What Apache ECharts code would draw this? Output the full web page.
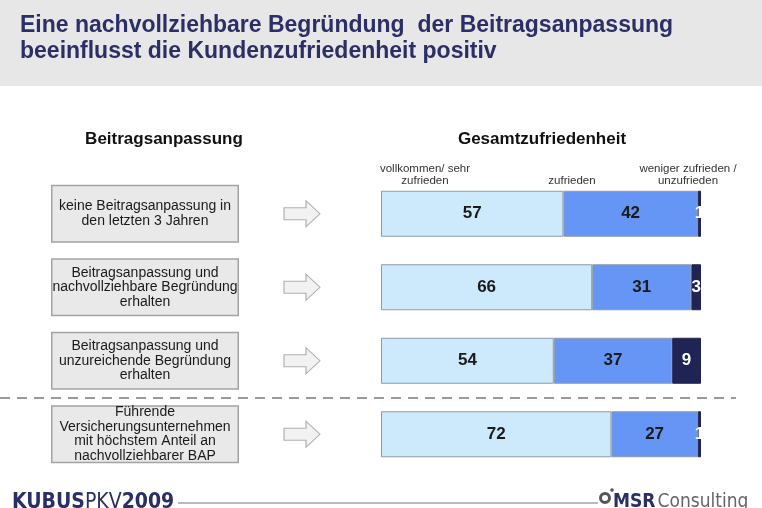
<!DOCTYPE html>
<html>
<head>
<meta charset="utf-8">
<script src="https://cdn.jsdelivr.net/npm/echarts@6/dist/echarts.min.js"></script>
<style>
  html, body { margin: 0; padding: 0; background: #fff; }
  #chart { width: 762px; height: 508px; }
</style>
</head>
<body>
<div id="chart"></div>
<script>
// Daten
const categories = [
  "keine Beitragsanpassung in\nden letzten 3 Jahren",
  "Beitragsanpassung und\nnachvollziehbare Begründung\nerhalten",
  "Beitragsanpassung und\nunzureichende Begründung\nerhalten",
  "Führende\nVersicherungsunternehmen\nmit höchstem Anteil an\nnachvollziehbarer BAP"
];
const seriesNames = ["vollkommen/ sehr\nzufrieden", "zufrieden", "weniger zufrieden /\nunzufrieden"];
const sehrZufrieden = [57, 66, 54, 72];
const zufrieden = [42, 31, 37, 27];
const unzufrieden = [1, 3, 9, 1];

const navy = "#2b2f66";
const font = "Liberation Sans";

const chart = echarts.init(document.getElementById("chart"));

const gridTop = 177;
const gridHeight = 294;

function catAxis(idx) {
  return {
    type: "category",
    gridIndex: idx,
    data: categories,
    inverse: true,
    axisLine: { show: false },
    axisTick: { show: false },
    axisLabel: { show: false },
    splitLine: { show: false }
  };
}
function valAxis(idx, max) {
  return {
    type: "value",
    gridIndex: idx,
    min: 0,
    max: max,
    show: false
  };
}

const valueLabel = (color) => ({
  show: true,
  position: "inside",
  color: color,
  fontFamily: font,
  fontWeight: "bold",
  fontSize: 17
});

const headStyle = { fill: "#111", fontFamily: font, fontSize: 17, fontWeight: "bold", align: "center", verticalAlign: "middle" };
const legendStyle = { fill: "#333", fontFamily: font, fontSize: 11.5, align: "center", lineHeight: 12 };

const option = {
  backgroundColor: "#ffffff",
  animation: false,
  title: {
    text: "Eine nachvollziehbare Begründung  der Beitragsanpassung\nbeeinflusst die Kundenzufriedenheit positiv",
    left: 15,
    top: 8,
    textStyle: {
      fontFamily: font,
      fontSize: 23,
      fontWeight: "bold",
      color: navy,
      lineHeight: 26
    }
  },
  grid: [
    { left: 381, width: 320, top: gridTop, height: gridHeight },
    { left: 51, width: 188, top: gridTop, height: gridHeight },
    { left: 284, width: 36, top: gridTop, height: gridHeight }
  ],
  xAxis: [valAxis(0, 100), valAxis(1, 1), valAxis(2, 1)],
  yAxis: [catAxis(0), catAxis(1), catAxis(2)],
  graphic: [
    {
      type: "rect",
      z: -10,
      shape: { x: 0, y: 0, width: 762, height: 86 },
      style: { fill: "#e7e7e7" }
    },
    { type: "text", x: 164, y: 139, style: Object.assign({ text: "Beitragsanpassung" }, headStyle) },
    { type: "text", x: 542, y: 139, style: Object.assign({ text: "Gesamtzufriedenheit" }, headStyle) },
    {
      type: "line",
      shape: { x1: 0, y1: 398, x2: 736, y2: 398 },
      style: { stroke: "#9a9a9a", lineWidth: 2, lineDash: [10, 7] }
    },
    { type: "text", x: 425, y: 163, style: Object.assign({ text: seriesNames[0] }, legendStyle) },
    { type: "text", x: 572, y: 175, style: Object.assign({ text: seriesNames[1] }, legendStyle) },
    { type: "text", x: 688, y: 163, style: Object.assign({ text: seriesNames[2] }, legendStyle) },
    // Fußzeile
    {
      type: "text",
      x: 12, y: 492,
      style: {
        text: "{b|KUBUS}{n|PKV}{b|2009}",
        rich: {
          b: { fontFamily: "DejaVu Sans Condensed", fontWeight: "bold", fontSize: 21, fill: navy },
          n: { fontFamily: "DejaVu Sans Condensed", fontSize: 21, fill: navy }
        }
      }
    },
    {
      type: "line",
      shape: { x1: 178, y1: 503, x2: 598, y2: 503 },
      style: { stroke: "#777", lineWidth: 1 }
    },
    {
      type: "circle",
      shape: { cx: 605, cy: 498, r: 4.5 },
      style: { fill: "#fff", stroke: "#555", lineWidth: 3 }
    },
    {
      type: "circle",
      shape: { cx: 612, cy: 490, r: 1.8 },
      style: { fill: "#555" }
    },
    {
      type: "text",
      x: 613, y: 493,
      style: {
        text: "{b|MSR}{n|Consulting}",
        rich: {
          b: { fontFamily: "DejaVu Sans Condensed", fontWeight: "bold", fontSize: 19, fill: navy },
          n: { fontFamily: "DejaVu Sans Condensed", fontSize: 19, fill: "#666", padding: [0, 0, 0, 2] }
        }
      }
    }
  ],
  series: [
    {
      name: seriesNames[0],
      type: "bar",
      stack: "total",
      xAxisIndex: 0,
      yAxisIndex: 0,
      barWidth: 46,
      data: sehrZufrieden,
      itemStyle: { color: "#cdeafc", borderColor: "#8e9aa8", borderWidth: 1 },
      label: valueLabel("#1a1a1a")
    },
    {
      name: seriesNames[1],
      type: "bar",
      stack: "total",
      xAxisIndex: 0,
      yAxisIndex: 0,
      barWidth: 46,
      data: zufrieden,
      itemStyle: { color: "#6696f5", borderColor: "#8e9aa8", borderWidth: 1 },
      label: valueLabel("#1a1a1a")
    },
    {
      name: seriesNames[2],
      type: "bar",
      stack: "total",
      xAxisIndex: 0,
      yAxisIndex: 0,
      barWidth: 46,
      data: unzufrieden,
      itemStyle: { color: "#1f2455", borderColor: "#1f2455", borderWidth: 1 },
      label: valueLabel("#ffffff")
    },
    {
      // Kästen mit den Gruppen
      type: "bar",
      xAxisIndex: 1,
      yAxisIndex: 1,
      barWidth: 58,
      data: categories.map(() => 1),
      itemStyle: { color: "#e9e9e9", borderColor: "#a3a3a3", borderWidth: 1.5 },
      label: {
        show: true,
        position: "inside",
        formatter: (p) => categories[p.dataIndex],
        fontFamily: font,
        fontSize: 14,
        lineHeight: 14.5,
        color: "#1a1a1a",
        align: "center"
      },
      silent: true
    },
    {
      // Pfeile
      type: "scatter",
      xAxisIndex: 2,
      yAxisIndex: 2,
      symbol: "path://M0,7 L22,7 L22,0 L36,13 L22,26 L22,19 L0,19 Z",
      symbolSize: [36, 26],
      data: categories.map((c, i) => [0.5, i]),
      itemStyle: { color: "#efefef", borderColor: "#9c9c9c", borderWidth: 1 },
      silent: true
    }
  ]
};

chart.setOption(option);
</script>
</body>
</html>
